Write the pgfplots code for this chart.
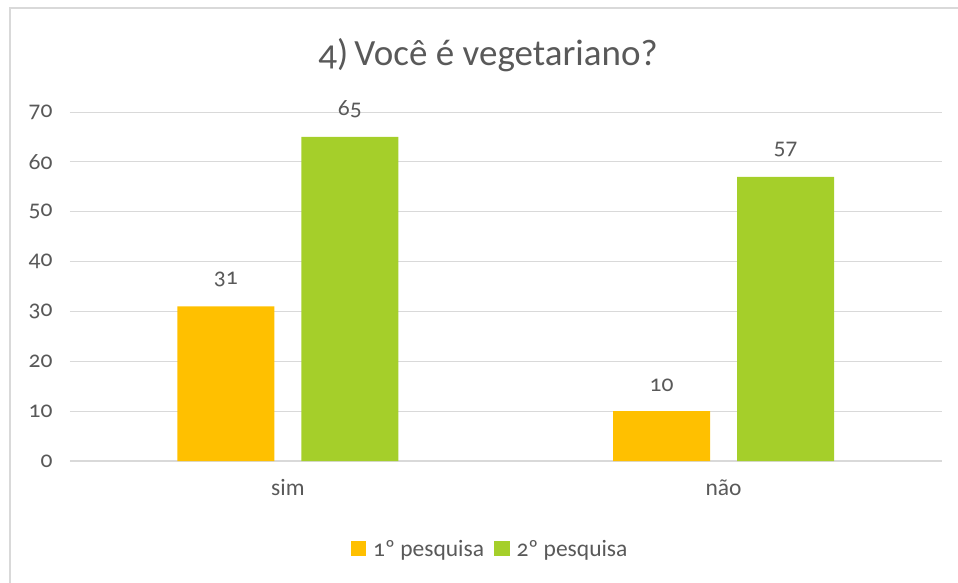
\documentclass[border=0pt]{standalone}
\usepackage{pgfplots}
\pgfplotsset{compat=1.18}
\usepackage{fontspec}
\setmainfont{Carlito}[Numbers=OldStyle]
\definecolor{txt}{HTML}{595959}
\definecolor{grd}{HTML}{D9D9D9}
\definecolor{orng}{HTML}{FFC000}
\definecolor{grn}{HTML}{A5CF2A}
\begin{document}
\begin{tikzpicture}
\useasboundingbox (0,0) rectangle (958pt,582pt);
\draw[grd, line width=1.2pt] (10pt,-20pt) rectangle (990pt,574pt);
\node[text=txt, font=\fontsize{37}{40}\selectfont] at (488pt,582pt-55pt) {4)\,Você é vegetariano?};
\begin{axis}[
  at={(70pt,121pt)}, anchor=south west,
  scale only axis, width=871.5pt, height=349pt,
  ymin=0, ymax=70, xmin=-0.5, xmax=1.5,
  ytick={0,10,...,70},
  xtick={0,1}, xticklabels={sim,não},
  ymajorgrids, major grid style={grd, line width=1pt},
  axis lines*=left,
  y axis line style={draw=none},
  x axis line style={draw=grd, line width=1.5pt, -},
  major tick length=0pt,
  tick style={draw=none},
  ticklabel style={text=txt, font=\fontsize{23.5}{26}\selectfont},
  yticklabel style={anchor=east, xshift=-14pt},
  xticklabel style={yshift=-15pt},
  /pgf/number format/assume math mode=true,
  ybar=27pt, bar width=97pt,
  nodes near coords,
  nodes near coords style={text=txt, font=\fontsize{23.5}{26}\selectfont, anchor=south, yshift=16pt},
  legend columns=2,
  legend style={at={(0.482,-0.252)}, anchor=center, draw=none, fill=none,
    font=\fontsize{23.5}{26}\selectfont, text=txt,
    /tikz/every even column/.append style={column sep=8pt}},
  legend image code/.code={\fill[#1] (0pt,-7.5pt) rectangle (15.5pt,7.5pt);},
  clip=false,
]
\addplot[fill=orng, draw=none] coordinates {(0,31) (1,10)};
\addplot[fill=grn, draw=none] coordinates {(0,65) (1,57)};
\legend{\hspace{5pt}1º pesquisa, \hspace{5pt}2º pesquisa}
\end{axis}
\end{tikzpicture}
\end{document}
